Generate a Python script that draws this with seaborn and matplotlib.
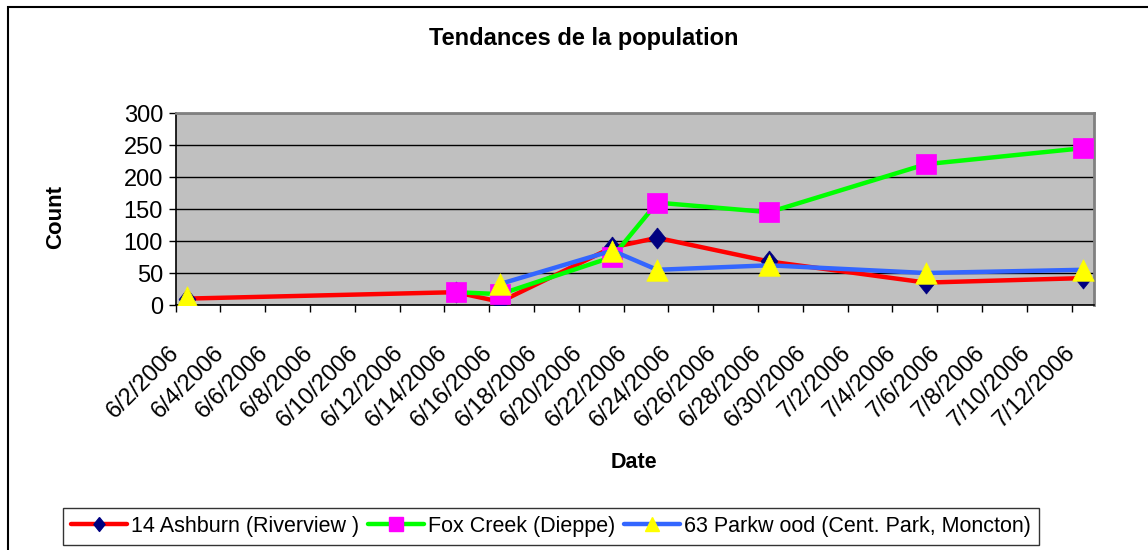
import pandas as pd
import seaborn as sns
import matplotlib.pyplot as plt
import matplotlib.transforms as mtransforms
from matplotlib.lines import Line2D
from matplotlib.patches import Rectangle

# survey dates and counts per site (None = no count that day)
dates = ["2006-06-02", "2006-06-14", "2006-06-16", "2006-06-21",
         "2006-06-23", "2006-06-28", "2006-07-05", "2006-07-12"]
ashburn = [10, 20, 5, 90, 105, 68, 35, 42]
fox_creek = [None, 20, 17, 75, 160, 145, 220, 245]
parkwood = [12, None, 33, 85, 55, 62, 50, 55]

site_names = ["14 Ashburn (Riverview )", "Fox Creek (Dieppe)",
              "63 Parkw ood (Cent. Park, Moncton)"]
tick_dates = pd.date_range("2006-06-02", "2006-07-12", freq="2D")
tick_labels = [f"{d.month}/{d.day}/{d.year}" for d in tick_dates]
y_ticks = [0, 50, 100, 150, 200, 250, 300]

line_colors = ["#FF0000", "#00FF00", "#3366FF"]
marker_colors = ["#000080", "#FF00FF", "#FFFF00"]
diamond = [(0, 1), (0.8, 0), (0, -1), (-0.8, 0), (0, 1)]
markers = [diamond, "s", "^"]
marker_sizes = [230, 200, 240]

W, H = 1148, 550


def build_frame():
    # long table, a new segment starts after every missing value (gaps in lines)
    rows = []
    for name, values in zip(site_names, [ashburn, fox_creek, parkwood]):
        seg = 0
        for d, v in zip(dates, values):
            if v is None:
                seg += 1
                continue
            rows.append({"site": name, "date": pd.Timestamp(d) + pd.Timedelta(hours=12),
                         "count": v, "segment": seg})
    return pd.DataFrame(rows)


def main():
    sns.set_style("ticks")
    plt.rcParams["font.family"] = ["Liberation Sans", "DejaVu Sans"]
    plt.rcParams["text.color"] = "black"
    plt.rcParams["xtick.color"] = "black"
    plt.rcParams["ytick.color"] = "black"
    tick_fs = 17
    title_fs = 17

    df = build_frame()

    fig = plt.figure(figsize=(W / 100, H / 100), dpi=100)
    ax = fig.add_axes([175.5 / W, 1 - 305 / H, (1094 - 175.5) / W, (305 - 113) / H])
    ax.set_facecolor("#C0C0C0")

    for i, name in enumerate(site_names):
        sub = df[df["site"] == name]
        sns.lineplot(data=sub, x="date", y="count", units="segment", estimator=None,
                     color=line_colors[i], lw=3.2, sort=False, ax=ax, zorder=3 + 2 * i)
        sns.scatterplot(data=sub, x="date", y="count", marker=markers[i], s=marker_sizes[i],
                        color=marker_colors[i], edgecolor=marker_colors[i], linewidth=0.5,
                        ax=ax, zorder=4 + 2 * i, legend=False)

    ax.set_xlim(pd.Timestamp("2006-06-02"), pd.Timestamp("2006-07-13"))
    ax.set_ylim(0, 300)
    ax.set_yticks(y_ticks)
    ax.set_yticklabels([str(v) for v in y_ticks], fontsize=tick_fs)
    ax.set_xticks(tick_dates)
    ax.set_xticklabels(tick_labels, fontsize=tick_fs, rotation=45, ha="right", va="center",
                       rotation_mode="anchor")
    offset = mtransforms.ScaledTranslation(4 / 100, 0, fig.dpi_scale_trans)
    for lab in ax.get_xticklabels():
        lab.set_transform(lab.get_transform() + offset)
    ax.tick_params(axis="x", length=5, width=1, color="black", pad=27)
    ax.tick_params(axis="y", length=5, width=1, color="black", pad=4)
    ax.set_xlabel("")
    ax.set_ylabel("")

    ax.yaxis.grid(True, color="black", lw=1)
    ax.xaxis.grid(False)
    ax.set_axisbelow(True)
    for side in ["top", "right"]:
        ax.spines[side].set_color("#808080")
        ax.spines[side].set_linewidth(2)
    for side in ["left", "bottom"]:
        ax.spines[side].set_color("black")
        ax.spines[side].set_linewidth(1.2)

    fig.text(584 / W, 1 - 38 / H, "Tendances de la population", fontsize=title_fs,
             fontweight="bold", ha="center", va="center")
    fig.text(56 / W, 1 - 216.7 / H, "Count", fontsize=16, fontweight="bold",
             rotation=90, ha="center", va="center")
    fig.text(634 / W, 1 - 462 / H, "Date", fontsize=15.5, fontweight="bold",
             ha="center", va="center")

    handles = [Line2D([0], [0], color=line_colors[i], lw=3.2, marker=markers[i],
                      markersize=10, markerfacecolor=marker_colors[i],
                      markeredgecolor=marker_colors[i]) for i in range(3)]
    leg = fig.legend(handles, site_names, loc="center", bbox_to_anchor=(551 / W, 1 - 526.5 / H),
                     ncol=3, fontsize=15.5, frameon=True, fancybox=False, handlelength=2.6,
                     handletextpad=0.2, columnspacing=0.4, borderpad=0.35)
    leg.get_frame().set_edgecolor("black")
    leg.get_frame().set_linewidth(1)

    # chart area border
    fig.add_artist(Rectangle((8 / W, -0.1), 1.2, 1 - 7 / H + 0.1, transform=fig.transFigure,
                             fill=False, ec="black", lw=1.5))

    fig.savefig("out.png", dpi=100)


if __name__ == "__main__":
    main()
